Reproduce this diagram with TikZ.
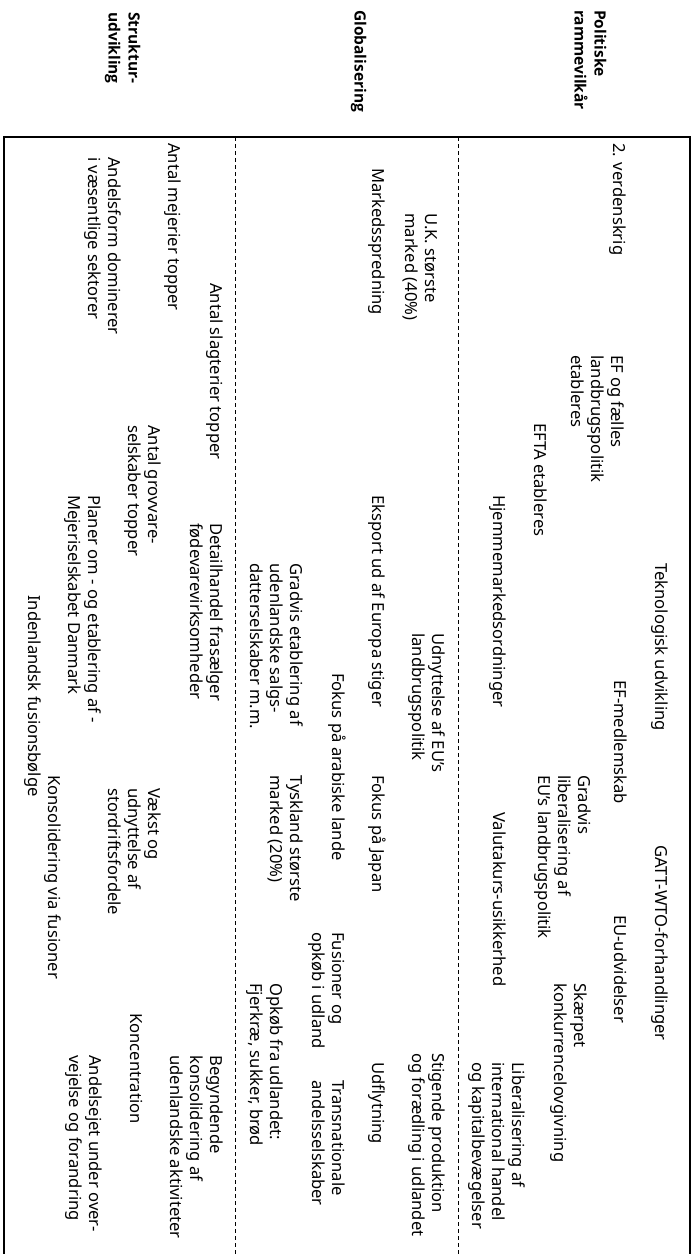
\documentclass[tikz,border=0pt]{standalone}
\usepackage{fontspec}
\setmainfont{Noto Sans}
\newfontfamily\labfont{Open Sans}
\begin{document}
\begin{tikzpicture}[x=1pt,y=1pt,
  txt/.style={rotate=-90, anchor=base west, inner sep=0pt, align=left,
    font=\fontsize{16.6}{20}\selectfont},
  lab/.style={rotate=-90, anchor=base west, inner sep=0pt, align=left,
    font=\labfont\fontsize{15.5}{20}\selectfont\bfseries},
  frame/.style={line width=2.4pt},
  sep/.style={line width=0.8pt, dash pattern=on 4pt off 3pt}]
\useasboundingbox (0,0) rectangle (696,-1254);
% frame
\coordinate (fbl) at (4,-1254);
\coordinate (ftl) at (4,-137);
\coordinate (ftr) at (690,-137);
\coordinate (fbr) at (690,-1254);
\draw[frame] (fbl) -- (ftl) -- (ftr) -- (fbr);
\coordinate (s1t) at (235,-137); \coordinate (s1b) at (235,-1254);
\coordinate (s2t) at (458,-137); \coordinate (s2b) at (458,-1254);
\draw[sep] (s1t) -- (s1b);
\draw[sep] (s2t) -- (s2b);
% row labels
\node[lab] (pol) at (574.7,-10) {Politiske\\rammevilkår};
\node[lab] (glob) at (354.7,-10) {Globalisering};
\node[lab] (struk) at (108.7,-12) {Struktur-\\udvikling};
% political framework
\node[txt] (n1) at (613.5,-143) {2. verdenskrig};
\node[txt] (n2) at (571.5,-355) {EF og fælles\\landbrugspolitik\\etableres};
\node[txt] (n3) at (534.5,-423) {EFTA etableres};
\node[txt] (n4) at (655.5,-563) {Teknologisk udvikling};
\node[txt] (n5) at (614.5,-680) {EF-medlemskab};
\node[txt] (n6) at (538.5,-775) {Gradvis\\liberalisering af\\EU's landbrugspolitik};
\node[txt] (n7) at (493.5,-495) {Hjemmemarkedsordninger};
\node[txt] (n8) at (493.5,-812) {Valutakurs-usikkerhed};
\node[txt] (n9) at (655.5,-845) {GATT-WTO-forhandlinger};
\node[txt] (n10) at (614.5,-915) {EU-udvidelser};
\node[txt] (n11) at (554.5,-983) {Skærpet\\konkurrencelovgivning};
\node[txt] (n12) at (472.5,-1062) {Liberalisering af\\international handel\\og kapitalbevægelser};
% globalisation
\node[txt] (g1) at (405.5,-213) {U.K. største\\marked (40\%)};
\node[txt] (g2) at (372.5,-168) {Markedsspredning};
\node[txt] (g3) at (372.5,-495) {Eksport ud af Europa stiger};
\node[txt] (g4) at (412.5,-633) {Udnyttelse af EU's\\landbrugspolitik};
\node[txt] (g5) at (332.5,-673) {Fokus på arabiske lande};
\node[txt] (g6) at (372.5,-775) {Fokus på Japan};
\node[txt] (g7) at (250.5,-563) {Gradvis etablering af\\udenlandske salgs-\\datterselskaber m.m.};
\node[txt] (g8) at (270.5,-775) {Tyskland største\\marked (20\%)};
\node[txt] (g9) at (312.5,-932) {Fusioner og\\opkøb i udland};
\node[txt] (g10) at (312.5,-1080) {Transnationale\\andelsselskaber};
\node[txt] (g11) at (412.5,-1053) {Stigende produktion\\og forædling i udlandet};
\node[txt] (g12) at (372.5,-1062) {Udflytning};
\node[txt] (g13) at (250.5,-983) {Opkøb fra udlandet:\\Fjerkræ, sukker, brød};
% structural development
\node[txt] (s1) at (168.5,-143) {Antal mejerier topper};
\node[txt] (s2) at (88.5,-157) {Andelsform dominerer\\i væsentlige sektorer};
\node[txt] (s3) at (210.5,-283) {Antal slagterier topper};
\node[txt] (s4) at (128.5,-425) {Antal grovvare-\\selskaber topper};
\node[txt] (s5) at (190.5,-523) {Detailhandel frasælger\\fødevarevirksomheder};
\node[txt] (s6) at (68.5,-495) {Planer om - og etablering af -\\Mejeriselskabet Danmark};
\node[txt] (s7) at (28.5,-595) {Indenlandsk fusionsbølge};
\node[txt] (s8) at (108.5,-788) {Vækst og\\udnyttelse af\\stordriftsfordele};
\node[txt] (s9) at (48.5,-775) {Konsolidering via fusioner};
\node[txt] (s10) at (170.5,-1055) {Begyndende\\konsolidering af\\udenlandske aktiviteter};
\node[txt] (s11) at (130.5,-1013) {Koncentration};
\node[txt] (s12) at (69.5,-1055) {Andelsejet under over-\\vejelse og forandring};
\end{tikzpicture}
\end{document}
